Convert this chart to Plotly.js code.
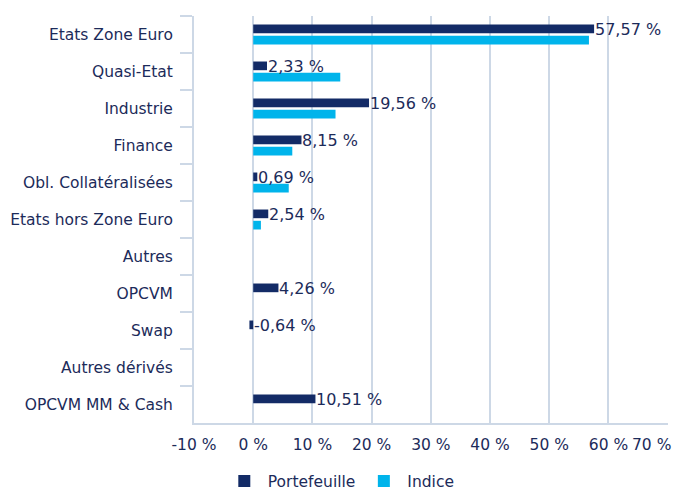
<!DOCTYPE html>
<html>
<head>
<meta charset="utf-8">
<script src="https://cdn.plot.ly/plotly-3.0.1.min.js"></script>
<style>html,body{margin:0;padding:0;background:#fff}#chart{width:674px;height:490px}</style>
</head>
<body>
<div id="chart"></div>
<script>
var categories = ["Etats Zone Euro","Quasi-Etat","Industrie","Finance","Obl. Collatéralisées","Etats hors Zone Euro","Autres","OPCVM","Swap","Autres dérivés","OPCVM MM & Cash"];
var portefeuille = [57.57, 2.33, 19.56, 8.15, 0.69, 2.54, null, 4.26, -0.64, null, 10.51];
var indice = [56.7, 14.7, 13.9, 6.6, 6.0, 1.3, null, null, null, null, null];
var tickVals = [-10, 0, 10, 20, 30, 40, 50, 60, 70];
var tickText = ["-10 %","0 %","10 %","20 %","30 %","40 %","50 %","60 %","70 %"];

var navy = "#132b66", cyan = "#00b4eb", txt = "#1c2b5a", grid = "#cdd8e6";
var fnt = "DejaVu Sans, Verdana, sans-serif";

function fmt(v){ return v.toFixed(2).replace('.', ',') + ' %'; }

var annotations = [];
categories.forEach(function(c, i){
  var v = portefeuille[i];
  if (v === null) return;
  annotations.push({x: Math.max(v, 0), y: c, xref: 'x', yref: 'y', text: fmt(v),
    showarrow: false, xanchor: 'left', yanchor: 'middle', xshift: -1, yshift: 5,
    font: {family: fnt, size: 16, color: txt}});
});
// last tick label is pulled inside the chart so it is not cut at the right edge
var lastI = tickVals.length - 1;
annotations.push({x: tickVals[lastI], y: 0, xref: 'x', yref: 'paper', text: tickText[lastI],
  showarrow: false, xanchor: 'right', yanchor: 'middle', xshift: 5, yshift: -22,
  font: {family: fnt, size: 15.5, color: txt}});
var shownText = tickText.map(function(t, i){ return i === lastI ? '' : t; });

var data = [
  {type: 'bar', orientation: 'h', name: 'Portefeuille', y: categories, x: portefeuille,
   marker: {color: navy}, hoverinfo: 'none'},
  {type: 'bar', orientation: 'h', name: 'Indice', y: categories, x: indice,
   marker: {color: cyan}, hoverinfo: 'none'}
];

var layout = {
  width: 674, height: 490,
  margin: {l: 194, r: 6, t: 16, b: 67},
  paper_bgcolor: '#fff', plot_bgcolor: '#fff',
  barmode: 'group', bargap: 0.39, bargroupgap: 0.23,
  font: {family: fnt, size: 15.5, color: txt},
  xaxis: {range: [-10, 70.05], tickvals: tickVals, ticktext: shownText, showgrid: true,
          gridcolor: grid, gridwidth: 2, zeroline: false, showline: true, linecolor: grid, linewidth: 2,
          ticks: '', ticklabelstandoff: 6,
          tickfont: {family: fnt, size: 15.5, color: txt}, fixedrange: true},
  yaxis: {autorange: 'reversed', type: 'category', showgrid: false, zeroline: false,
          showline: true, linecolor: grid, linewidth: 2, ticks: 'outside', tickson: 'boundaries',
          ticklen: 12, tickcolor: grid, tickwidth: 2, ticklabelstandoff: 16,
          tickfont: {family: fnt, size: 15.5, color: txt}},
  showlegend: true,
  legend: {orientation: 'h', xref: 'container', yref: 'container', x: 0.3276, y: 0.052, xanchor: 'left', yanchor: 'top',
           font: {family: fnt, size: 15.5, color: txt}, itemwidth: 37},
  annotations: annotations
};

Plotly.newPlot('chart', data, layout, {displayModeBar: false, staticPlot: true});
</script>
</body>
</html>
